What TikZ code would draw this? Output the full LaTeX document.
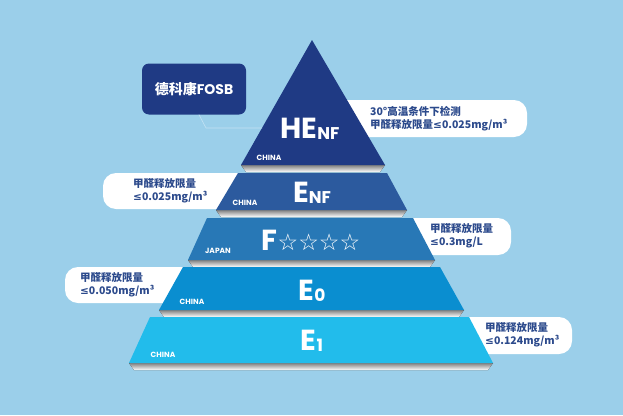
\documentclass[tikz,border=0pt]{standalone}
\usepackage{fontspec}
\setmainfont{Poppins}
\newfontfamily\cjk{Noto Sans CJK SC}
\newfontfamily\symb{DejaVu Sans}
\usetikzlibrary{calc, positioning}
\definecolor{bg}{HTML}{9BCFEA}
\definecolor{layerA}{HTML}{1F3A84}
\definecolor{layerB}{HTML}{2C5A9E}
\definecolor{layerC}{HTML}{2878B6}
\definecolor{layerD}{HTML}{0A8ED0}
\definecolor{layerE}{HTML}{22BCEB}
\definecolor{shade}{HTML}{1A2A50}
\definecolor{note}{HTML}{2C4A8C}
\begin{document}
\begin{tikzpicture}[x=1pt,y=-1pt,
  callout/.style={fill=white, rounded corners=13pt},
  notetext/.style={text=note, font=\cjk\bfseries\fontsize{10.5}{13}\selectfont, align=left, anchor=west, inner sep=0pt},
  origin/.style={text=white, font=\bfseries\fontsize{7.5}{8}\selectfont, inner sep=0pt},
  grade/.style={text=white, font=\bfseries\fontsize{29}{30}\selectfont, inner sep=0pt}]
\newcommand{\lessq}{{\symb ≤}}
%Background
\fill[bg] (0,0) rectangle (623,415);
%Callouts behind the pyramid
\fill[callout] (320,100) rectangle (527,137);
\fill[callout] (103,173) rectangle (260,209);
\fill[callout] (390,218) rectangle (511,255);
\fill[callout] (65,267) rectangle (200,303);
\fill[callout] (450,317) rectangle (572,354);
%Layers with their shadows
\fill[shade] (241,165) -- (385,165) -- (380,172) -- (246,172) -- cycle;
\fill[layerA] (312,40) -- (385,165) -- (241,165) -- cycle;
\fill[shade] (216,210) -- (407,210) -- (402,217) -- (221,217) -- cycle;
\fill[layerB] (238,173) -- (387,173) -- (407,210) -- (216,210) -- cycle;
\fill[shade] (188,260) -- (435,260) -- (430,267) -- (193,267) -- cycle;
\fill[layerC] (207,218) -- (413,218) -- (435,260) -- (188,260) -- cycle;
\fill[shade] (159,310) -- (464,310) -- (459,317) -- (164,317) -- cycle;
\fill[layerD] (183,267) -- (440,267) -- (464,310) -- (159,310) -- cycle;
\fill[shade] (129,363) -- (493,363) -- (488,370) -- (134,370) -- cycle;
\fill[layerE] (150,317) -- (469,317) -- (493,363) -- (129,363) -- cycle;
%Brand box
\node[fill=layerA, rounded corners=7pt, minimum width=104pt, minimum height=51pt, text=white,
  font=\bfseries\fontsize{14}{16}\selectfont] (brand) at (194,89) {{\cjk 德科康}FOSB};
\coordinate (bend) at (206,128);
\coordinate (tail) at (262,128);
\draw[bg!60!white, line width=0.6pt] (brand.south) ++(5,0) -- (bend) -- (tail);
%Grades
\node[grade] (henf) at (310,129) {HE\raisebox{-1pt}{\fontsize{17}{18}\selectfont NF}};
\node[grade] (enf) at (312,193) {E\raisebox{-1pt}{\fontsize{17}{18}\selectfont NF}};
\node[grade] (fstar) at (311,240) {F{\symb\fontsize{23}{24}\selectfont ☆☆☆☆}};
\node[grade] (ezero) at (312,291) {E\raisebox{-1pt}{\fontsize{17}{18}\selectfont 0}};
\node[grade] (eone) at (312,341) {E\raisebox{-1pt}{\fontsize{17}{18}\selectfont 1}};
%Origins
\node[origin] (oa) at (269,158) {CHINA};
\node[origin] (ob) at (245,203) {CHINA};
\node[origin] (oc) at (218,251) {JAPAN};
\node[origin] (od) at (192,302) {CHINA};
\node[origin] (oe) at (163,355) {CHINA};
%Limits
\node[notetext] (na) at (370,119) {30°高温条件下检测\\甲醛释放限量\lessq0.025mg/m³};
\node[notetext] (nb) at (133,191) {甲醛释放限量\\\lessq0.025mg/m³};
\node[notetext] (nc) at (430,236) {甲醛释放限量\\\lessq0.3mg/L};
\node[notetext] (nd) at (80,285) {甲醛释放限量\\\lessq0.050mg/m³};
\node[notetext] (ne) at (485,335) {甲醛释放限量\\\lessq0.124mg/m³};
\end{tikzpicture}
\end{document}
